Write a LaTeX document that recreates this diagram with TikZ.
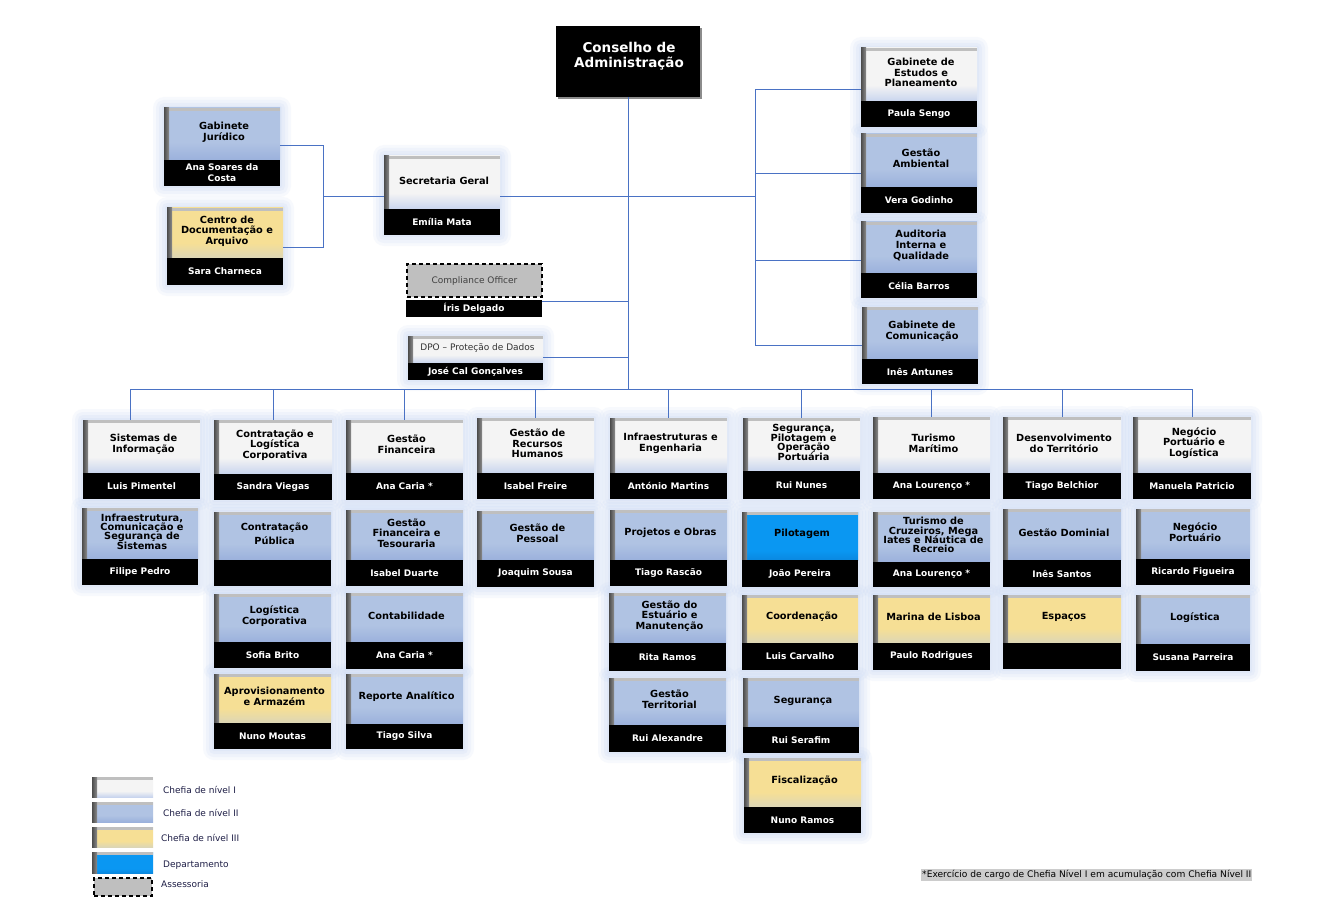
\documentclass[tikz,border=0pt]{standalone}
\usepackage{fontspec}
\setmainfont{DejaVu Sans}
\usetikzlibrary{calc}
\pgfdeclarelayer{bg}
\pgfsetlayers{bg,main}
\definecolor{Lonet}{HTML}{F4F4F4}
\definecolor{Loneb}{HTML}{C9D5EE}
\definecolor{Ltwot}{HTML}{B0C3E3}
\definecolor{Ltwob}{HTML}{9BB1DC}
\definecolor{Lthrt}{HTML}{F6DF95}
\definecolor{Lthrb}{HTML}{DCD6B6}
\definecolor{Deptt}{HTML}{0A97F2}
\definecolor{Deptb}{HTML}{0A88E0}
\definecolor{linkc}{HTML}{4A72C4}
\definecolor{glowc}{HTML}{CCDAF5}
\definecolor{legtext}{HTML}{1E1E46}
\pgfdeclareverticalshading{shone}{100bp}{color(0bp)=(Loneb); color(25bp)=(Loneb); color(40bp)=(Lonet); color(100bp)=(Lonet)}
\pgfdeclareverticalshading{shtwo}{100bp}{color(0bp)=(Ltwob); color(25bp)=(Ltwob); color(42bp)=(Ltwot); color(100bp)=(Ltwot)}
\pgfdeclareverticalshading{shthree}{100bp}{color(0bp)=(Lthrb); color(25bp)=(Lthrb); color(40bp)=(Lthrt); color(100bp)=(Lthrt)}
\pgfdeclareverticalshading{shdept}{100bp}{color(0bp)=(Deptb); color(25bp)=(Deptb); color(35bp)=(Deptt); color(100bp)=(Deptt)}
\tikzset{
  box/.style={inner sep=0pt, outer sep=0pt, anchor=north west},
  lone/.style={box, shade, shading=shone},
  ltwo/.style={box, shade, shading=shtwo},
  lthree/.style={box, shade, shading=shthree},
  ldept/.style={box, shade, shading=shdept},
  ttl/.style={font=\fontsize{9.8}{10.7}\selectfont\bfseries, align=center, text=black, inner sep=0pt},
  ttlx/.style={},
  nm/.style={box, fill=black, text=white, font=\fontsize{9}{11}\selectfont\bfseries, align=center},
  link/.style={draw=linkc, line width=0.8pt},
  legl/.style={anchor=west, font=\fontsize{9}{10}\selectfont, text=legtext, inner sep=0pt},
  asse/.style={box, fill=black!25, draw=black, line width=1.4pt, dash pattern=on 4pt off 3pt},
}
% #1 id, #2 x1, #3 x2, #4 ytop, #5 ysplit, #6 ybot, #7 style, #8 title, #9 name
\newcommand{\unit}[9]{%
  \begin{pgfonlayer}{bg}
    \foreach \g/\o in {11/0.15, 8/0.18, 5/0.22, 2/0.25}{%
      \fill[glowc, opacity=\o, rounded corners=\g pt] ($(#2,#4)+(-\g,-\g)$) rectangle ($(#3,#6)+(\g,\g)$);}
  \end{pgfonlayer}
  \node[#7, minimum width={#3-#2}, minimum height={#5-#4}] (#1) at (#2,#4) {};
  \fill[black!25] (#1.north west) rectangle ([yshift=-3pt]#1.north east);
  \fill[left color=black!70, right color=black!45] (#1.north west) rectangle ([xshift=5pt]#1.south west);
  \node[ttl, ttlx] (#1-t) at ([xshift=2pt, yshift=2pt]#1.center) {#8};
  \node[nm, minimum width={#3-#2}, minimum height={#6-#5}] (#1-n) at (#2,#5) {#9};
}
% legend box: #1 id, #2 ytop, #3 ybot, #4 style
\newcommand{\legbox}[4]{%
  \node[#4, minimum width=61, minimum height={#3-#2}] (#1) at (92,#2) {};
  \fill[black!25] (#1.north west) rectangle ([yshift=-3pt]#1.north east);
  \fill[left color=black!70, right color=black!45] (#1.north west) rectangle ([xshift=5pt]#1.south west);
}
\begin{document}
\begin{tikzpicture}[x=1pt, y=-1pt]
\useasboundingbox (0,0) rectangle (1337,901);
\begin{pgfonlayer}{bg}
  \fill[white] (0,0) rectangle (1337,901);
\end{pgfonlayer}

% ---------- top ----------
\fill[black!45] (558,28) rectangle (702,99);
\node[box, fill=black, minimum width=144, minimum height=71] (ca) at (556,26) {};
\node[font=\fontsize{13.5}{14.8}\selectfont\bfseries, text=white, align=center, inner sep=0pt] (ca-t) at (629,56) {Conselho de\\Administração};

\unit{gj}{164}{280}{108}{160}{186}{ltwo}{Gabinete\\Jurídico}{Ana Soares da\\Costa}
\unit{cd}{167}{283}{208}{258}{285}{lthree}{Centro de\\Documentação e\\Arquivo}{Sara Charneca}
\unit{sg}{384}{500}{156}{209}{235}{lone}{Secretaria Geral}{Emília Mata}

% Compliance officer
\node[asse, minimum width=135, minimum height=33] (co) at (407,264) {};
\node[font=\fontsize{9}{10}\selectfont, text=black!75, inner sep=0pt] (co-t) at (474.5,281) {Compliance Officer};
\node[nm, minimum width=136, minimum height=17] (co-n) at (406,300) {Íris Delgado};

\begin{scope}[ttlx/.style={font=\fontsize{9}{10}\selectfont\mdseries, text=black!80}]
\unit{dpo}{408}{543}{336}{363}{380}{lone}{DPO – Proteção de Dados}{José Cal Gonçalves}
\end{scope}

\unit{gep}{861}{977}{48}{101}{127}{lone}{Gabinete de\\Estudos e\\Planeamento}{Paula Sengo}
\unit{ga}{861}{977}{134}{187}{213}{ltwo}{Gestão\\Ambiental}{Vera Godinho}
\unit{aiq}{861}{977}{222}{273}{298}{ltwo}{Auditoria\\Interna e\\Qualidade}{Célia Barros}
\unit{gc}{862}{978}{307}{359}{384}{ltwo}{Gabinete de\\Comunicação}{Inês Antunes}

% ---------- columns ----------
\unit{c1a}{83}{200}{420}{473}{499}{lone}{Sistemas de\\Informação}{Luis Pimentel}
\unit{c1b}{82}{198}{508}{559}{585}{ltwo}{Infraestrutura,\\[-1.4pt]Comunicação e\\[-1.4pt]Segurança de\\[-1.4pt]Sistemas}{Filipe Pedro}

\unit{c2a}{214}{332}{420}{474}{500}{lone}{Contratação e\\Logística\\Corporativa}{Sandra Viegas}
\unit{c2b}{214}{331}{512}{560}{586}{ltwo}{Contratação\\[3pt]Pública}{}
\unit{c2c}{214}{331}{594}{642}{668}{ltwo}{Logística\\Corporativa}{Sofia Brito}
\unit{c2d}{214}{331}{674}{723}{749}{lthree}{Aprovisionamento\\e Armazém}{Nuno Moutas}

\unit{c3a}{346}{463}{420}{473}{500}{lone}{Gestão\\Financeira}{Ana Caria *}
\unit{c3b}{346}{463}{510}{560}{586}{ltwo}{Gestão\\Financeira e\\Tesouraria}{Isabel Duarte}
\unit{c3c}{346}{463}{593}{642}{669}{ltwo}{Contabilidade}{Ana Caria *}
\unit{c3d}{346}{463}{674}{724}{749}{ltwo}{Reporte Analítico}{Tiago Silva}

\unit{c4a}{477}{594}{418}{473}{499}{lone}{Gestão de\\Recursos\\Humanos}{Isabel Freire}
\unit{c4b}{477}{594}{511}{560}{587}{ltwo}{Gestão de\\Pessoal}{Joaquim Sousa}

\unit{c5a}{610}{727}{418}{473}{499}{lone}{Infraestruturas e\\Engenharia}{António Martins}
\unit{c5b}{610}{727}{510}{560}{586}{ltwo}{Projetos e Obras}{Tiago Rascão}
\unit{c5c}{609}{726}{593}{643}{671}{ltwo}{Gestão do\\Estuário e\\Manutenção}{Rita Ramos}
\unit{c5d}{609}{726}{678}{725}{752}{ltwo}{Gestão\\Territorial}{Rui Alexandre}

\unit{c6a}{743}{860}{418}{471}{499}{lone}{Segurança,\\[-1.2pt]Pilotagem e\\[-1.2pt]Operação\\[-1.2pt]Portuária}{Rui Nunes}
\unit{c6b}{742}{858}{512}{560}{587}{ldept}{Pilotagem}{João Pereira}
\unit{c6c}{742}{858}{595}{643}{670}{lthree}{Coordenação}{Luis Carvalho}
\unit{c6d}{743}{859}{678}{727}{753}{ltwo}{Segurança}{Rui Serafim}
\unit{c6e}{744}{861}{758}{807}{833}{lthree}{Fiscalização}{Nuno Ramos}

\unit{c7a}{873}{990}{417}{473}{499}{lone}{Turismo\\Marítimo}{Ana Lourenço *}
\unit{c7b}{873}{990}{512}{562}{587}{ltwo}{Turismo de\\[-1.4pt]Cruzeiros, Mega\\[-1.4pt]Iates e Náutica de\\[-1.4pt]Recreio}{Ana Lourenço *}
\unit{c7c}{873}{990}{595}{643}{670}{lthree}{Marina de Lisboa}{Paulo Rodrigues}

\unit{c8a}{1003}{1121}{417}{473}{499}{lone}{Desenvolvimento\\do Território}{Tiago Belchior}
\unit{c8b}{1003}{1121}{509}{560}{587}{ltwo}{Gestão Dominial}{Inês Santos}
\unit{c8c}{1003}{1121}{595}{643}{669}{lthree}{Espaços}{}

\unit{c9a}{1133}{1251}{417}{473}{499}{lone}{Negócio\\Portuário e\\Logística}{Manuela Patricio}
\unit{c9b}{1136}{1250}{509}{559}{585}{ltwo}{Negócio\\Portuário}{Ricardo Figueira}
\unit{c9c}{1136}{1250}{595}{644}{671}{ltwo}{Logística}{Susana Parreira}

% ---------- connectors ----------
\coordinate (busL) at (130,389);
\coordinate (hubR) at (755,196);
\coordinate (hubL) at (323,196);
\coordinate (lbT) at (323,145);
\coordinate (lbB) at (323,247);
\coordinate (rbT) at (755,89);
\coordinate (rb2) at (755,173);
\coordinate (rb3) at (755,260);
\coordinate (rbB) at (755,345);
\coordinate (cj) at (628,301);
\coordinate (dj) at (628,357);

\draw[link] (ca.south) -- (ca.south |- busL);
\draw[link] (sg.east |- hubR) -- (hubR);
\draw[link] (hubL) -- (sg.west |- hubL);
\draw[link] (gj.east |- lbT) -- (lbT) -- (lbB) -- (cd.east |- lbB);
\draw[link] (gep.west |- rbT) -- (rbT) -- (rbB) -- (gc.west |- rbB);
\draw[link] (rb2) -- (ga.west |- rb2);
\draw[link] (rb3) -- (aiq.west |- rb3);
\draw[link] (co.east |- cj) -- (cj);
\draw[link] (dpo.east |- dj) -- (dj);
\draw[link] (busL) -- (c9a.north |- busL);
\draw[link] (busL) -- (busL |- c1a.north);
\foreach \c in {c2a,c3a,c4a,c5a,c6a,c7a,c8a,c9a}{\draw[link] (\c.north |- busL) -- (\c.north);}

% ---------- legend ----------
\legbox{lg1}{777}{797}{lone}
\legbox{lg2}{802}{822}{ltwo}
\legbox{lg3}{827}{847}{lthree}
\legbox{lg4}{852}{873}{ldept}
\node[asse, minimum width=58, minimum height=18] (lg5) at (94,878) {};
\node[legl] (lg1-l) at (163,790) {Chefia de nível I};
\node[legl] (lg2-l) at (163,813) {Chefia de nível II};
\node[legl] (lg3-l) at (161,838) {Chefia de nível III};
\node[legl] (lg4-l) at (163,865) {Departamento};
\node[legl] (lg5-l) at (161,884) {Assessoria};

\node[anchor=west, fill=black!20, inner xsep=1pt, inner ysep=1.5pt, font=\fontsize{9.1}{10}\selectfont, text=black] (fn) at (921,875) {*Exercício de cargo de Chefia Nível I em acumulação com Chefia Nível II};
\end{tikzpicture}
\end{document}
